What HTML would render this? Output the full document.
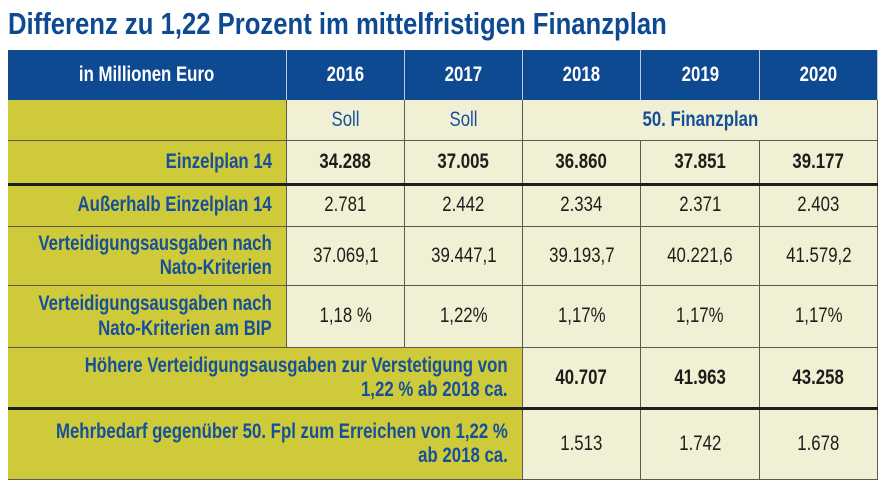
<!DOCTYPE html>
<html><head><meta charset="utf-8"><style>
body{margin:0;width:890px;height:500px;background:#fff;position:relative;overflow:hidden;font-family:"Liberation Sans",sans-serif}
.c{position:absolute;box-sizing:border-box;display:flex;align-items:center;justify-content:center;text-align:center;border-right:1.5px solid #5a5a52;border-bottom:1.5px solid #5a5a52;font-size:21px;color:#1d1d1b}
.c span{display:inline-block;transform:scaleX(0.8);white-space:nowrap;line-height:1.15}
.h{background:#0e4a92;color:#fff;font-weight:bold;border-right:1.5px solid #b9c8e0;border-bottom:none}
.l{background:#cfca3a;color:#15509a;font-weight:bold;justify-content:flex-end;text-align:right;padding-right:14px}
.l span{transform-origin:right center}
.v{background:#f2f0d4}
.b{font-weight:bold}
.s{color:#15509a}
#title{position:absolute;left:8px;top:6px;font-size:31px;font-weight:bold;color:#0e4a92;white-space:nowrap;transform-origin:left center}
</style></head><body>
<div id="title">Differenz zu 1,22 Prozent im mittelfristigen Finanzplan</div>
<div id="t"></div>
<script>
const cols=[8,287,405,523,641,760,878];
const rows=[50,100,141,185,227,286,348,409,480];
function cell(c0,c1,r,cls,txt,name){
  const d=document.createElement('div');
  
  
  d.className='c '+cls;
  d.style.left=cols[c0]+'px';d.style.width=(cols[c1]-cols[c0])+'px';
  d.style.top=rows[r]+'px';d.style.height=(rows[r+1]-rows[r])+'px';
  d.innerHTML='<span>'+txt+'</span>';
  document.getElementById('t').appendChild(d);
}
const years=['2016','2017','2018','2019','2020'];
cell(0,1,0,'h','in Millionen Euro','header-unit');
years.forEach((y,i)=>cell(i+1,i+2,0,'h',y,'header-'+y));
cell(0,1,1,'l','','subheader-blank');
cell(1,2,1,'v s','Soll','soll-2016');
cell(2,3,1,'v s','Soll','soll-2017');
cell(3,6,1,'v s b','50. Finanzplan','finanzplan-label');
const data=[
 ['Einzelplan 14',['34.288','37.005','36.860','37.851','39.177'],true,'einzelplan-14'],
 ['Außerhalb Einzelplan 14',['2.781','2.442','2.334','2.371','2.403'],false,'ausserhalb-einzelplan'],
 ['Verteidigungsausgaben nach<br>Nato-Kriterien',['37.069,1','39.447,1','39.193,7','40.221,6','41.579,2'],false,'nato-ausgaben'],
 ['Verteidigungsausgaben nach<br>Nato-Kriterien am BIP',['1,18 %','1,22%','1,17%','1,17%','1,17%'],false,'nato-bip'],
];
data.forEach((row,i)=>{
  cell(0,1,i+2,'l',row[0],row[3]+'-label');
  row[1].forEach((v,j)=>cell(j+1,j+2,i+2,'v'+(row[2]?' b':''),v,row[3]+'-'+years[j]));
});
cell(0,3,6,'l','Höhere Verteidigungsausgaben zur Verstetigung von<br>1,22 % ab 2018 ca.','hoehere-ausgaben-label');
['40.707','41.963','43.258'].forEach((v,j)=>cell(j+3,j+4,6,'v b',v,'hoehere-ausgaben-'+years[j+2]));
cell(0,3,7,'l','Mehrbedarf gegenüber 50. Fpl zum Erreichen von 1,22 %<br>ab 2018 ca.','mehrbedarf-label');
['1.513','1.742','1.678'].forEach((v,j)=>cell(j+3,j+4,7,'v',v,'mehrbedarf-'+years[j+2]));
// thick separators
[185,409].forEach((y,i)=>{const d=document.createElement('div');


d.style.cssText='position:absolute;left:8px;width:870px;height:3px;background:#1d1d1b;top:'+(y-2)+'px';
document.body.appendChild(d);});
const t=document.getElementById('title');
t.style.transform='scaleX('+(659/t.offsetWidth)+')';
</script>
</body></html>
